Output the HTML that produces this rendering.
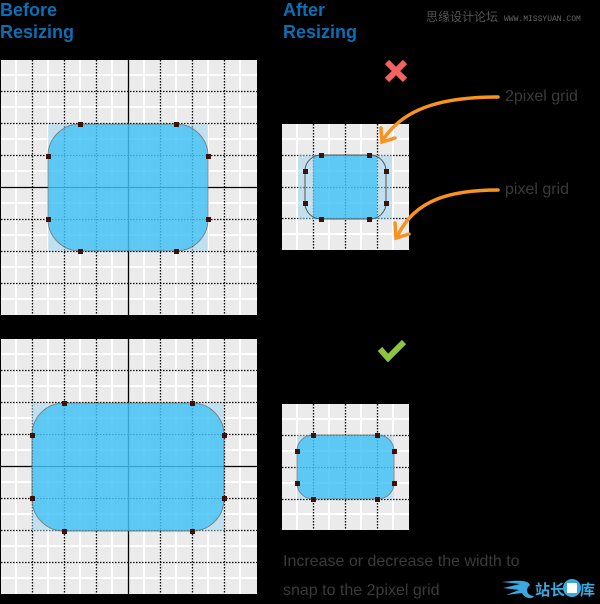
<!DOCTYPE html>
<html><head><meta charset="utf-8"><style>
html,body{margin:0;padding:0;background:#000;width:600px;height:604px;overflow:hidden}
svg{display:block}
</style></head><body>
<svg width="600" height="604" viewBox="0 0 600 604" xmlns="http://www.w3.org/2000/svg">
<rect width="600" height="604" fill="#000"/>
<g font-family="Liberation Sans, sans-serif" font-weight="bold" font-size="18" fill="#0a6fb5">
<text x="0" y="16">Before</text><text x="0" y="38">Resizing</text>
<text x="283" y="16">After</text><text x="283" y="38">Resizing</text>
</g>
<text x="426" y="21" font-family="Liberation Sans, 'Noto Sans CJK SC', sans-serif" font-size="12" fill="#555">思缘设计论坛</text>
<text x="504" y="21" font-family="Liberation Mono, monospace" font-size="8" fill="#666">WWW.MISSYUAN.COM</text>

<!-- Top-left grid -->
<g>
<rect x="1" y="60" width="256" height="255" fill="#ebebeb"/>
<g stroke="#fff" stroke-width="2">
<path d="M16 60V315M48 60V315M80 60V315M112 60V315M144 60V315M176 60V315M208 60V315M240 60V315"/>
<path d="M1 75H257M1 107H257M1 139H257M1 171H257M1 203H257M1 235H257M1 267H257M1 299H257"/>
</g>
<g stroke="#000" stroke-width="1.3" stroke-dasharray="1.5 1.5">
<path d="M32.5 60V315M64.5 60V315M96.5 60V315M160.5 60V315M192.5 60V315M224.5 60V315"/>
<path d="M1 91.5H257M1 123.5H257M1 155.5H257M1 219.5H257M1 251.5H257M1 283.5H257"/>
</g>
<path d="M128.5 60V315M1 187.5H257" stroke="#000" stroke-width="1.3"/>
<rect x="48" y="124" width="160" height="127" fill="#9fd6ee" opacity="0.55"/>
<rect x="48" y="124" width="160" height="127" rx="32" fill="#2abdf8" opacity="0.65" stroke="#555" stroke-width="1"/>
<g fill="#3a140c"><rect x="78" y="122" width="5" height="5"/><rect x="174" y="122" width="5" height="5"/><rect x="46" y="154" width="5" height="5"/><rect x="206" y="154" width="5" height="5"/><rect x="46" y="217" width="5" height="5"/><rect x="206" y="217" width="5" height="5"/><rect x="78" y="249" width="5" height="5"/><rect x="174" y="249" width="5" height="5"/></g>
</g>

<!-- Bottom-left grid -->
<g>
<rect x="1" y="339" width="256" height="255" fill="#ebebeb"/>
<g stroke="#fff" stroke-width="2">
<path d="M16 339V594M48 339V594M80 339V594M112 339V594M144 339V594M176 339V594M208 339V594M240 339V594"/>
<path d="M1 354H257M1 386H257M1 418H257M1 450H257M1 482H257M1 514H257M1 546H257M1 578H257"/>
</g>
<g stroke="#000" stroke-width="1.3" stroke-dasharray="1.5 1.5">
<path d="M32.5 339V594M64.5 339V594M96.5 339V594M160.5 339V594M192.5 339V594M224.5 339V594"/>
<path d="M1 370.5H257M1 402.5H257M1 434.5H257M1 498.5H257M1 530.5H257M1 562.5H257"/>
</g>
<path d="M128.5 339V594M1 466.5H257" stroke="#000" stroke-width="1.3"/>
<rect x="32" y="403" width="192" height="128" fill="#9fd6ee" opacity="0.55"/>
<rect x="32" y="403" width="192" height="128" rx="32" fill="#2abdf8" opacity="0.65" stroke="#555" stroke-width="1"/>
<g fill="#3a140c"><rect x="62" y="401" width="5" height="5"/><rect x="190" y="401" width="5" height="5"/><rect x="30" y="433" width="5" height="5"/><rect x="222" y="433" width="5" height="5"/><rect x="30" y="496" width="5" height="5"/><rect x="222" y="496" width="5" height="5"/><rect x="62" y="529" width="5" height="5"/><rect x="190" y="529" width="5" height="5"/></g>
</g>

<!-- Top-right grid -->
<g>
<rect x="282" y="124" width="127" height="126" fill="#ebebeb"/>
<g stroke="#fff" stroke-width="2">
<path d="M297 124V250M329 124V250M361 124V250M393 124V250"/>
<path d="M282 139H409M282 171H409M282 203H409M282 234H409"/>
</g>
<g stroke="#000" stroke-width="1.3" stroke-dasharray="1.5 1.5">
<path d="M313.5 124V250M345.5 124V250M377.5 124V250"/>
<path d="M282 155.5H409M282 187.5H409M282 218.5H409"/>
</g>
<rect x="298" y="155" width="94" height="64" fill="#9fd6ee" opacity="0.55"/>
<rect x="313" y="155" width="64" height="64" fill="#2abdf8" opacity="0.65"/>
<rect x="305" y="155" width="81" height="64" rx="16" fill="none" stroke="#555" stroke-width="1"/>
<g fill="#3a140c"><rect x="319" y="153" width="5" height="5"/><rect x="367" y="153" width="5" height="5"/><rect x="303" y="169" width="5" height="5"/><rect x="384" y="169" width="5" height="5"/><rect x="303" y="201" width="5" height="5"/><rect x="384" y="201" width="5" height="5"/><rect x="319" y="217" width="5" height="5"/><rect x="367" y="217" width="5" height="5"/></g>
</g>

<!-- Bottom-right grid -->
<g>
<rect x="282" y="404" width="127" height="126" fill="#ebebeb"/>
<g stroke="#fff" stroke-width="2">
<path d="M297 404V530M329 404V530M361 404V530M393 404V530"/>
<path d="M282 419H409M282 451H409M282 483H409M282 514H409"/>
</g>
<g stroke="#000" stroke-width="1.3" stroke-dasharray="1.5 1.5">
<path d="M313.5 404V530M345.5 404V530M377.5 404V530"/>
<path d="M282 435.5H409M282 467.5H409M282 499.5H409"/>
</g>
<rect x="297" y="435" width="97" height="64" fill="#9fd6ee" opacity="0.55"/>
<rect x="297" y="435" width="97" height="64" rx="16" fill="#2abdf8" opacity="0.65" stroke="#555" stroke-width="1"/>
<g fill="#3a140c"><rect x="311" y="433" width="5" height="5"/><rect x="375" y="433" width="5" height="5"/><rect x="295" y="449" width="5" height="5"/><rect x="392" y="449" width="5" height="5"/><rect x="295" y="481" width="5" height="5"/><rect x="392" y="481" width="5" height="5"/><rect x="311" y="497" width="5" height="5"/><rect x="375" y="497" width="5" height="5"/></g>
</g>

<!-- X mark -->
<path d="M387 62L405 80M405 62L387 80" stroke="#f56262" stroke-width="6"/>
<!-- check -->
<path d="M380 349L388 358L404 342" stroke="#8cc63f" stroke-width="6" fill="none"/>

<!-- arrows -->
<g stroke="#f7931e" stroke-width="3.5" fill="none" stroke-linecap="round">
<path d="M498 97C450 97 405 105 383 140"/>
<path d="M381 128L382 142L395 138"/>
<path d="M498 190C450 190 415 200 398 235"/>
<path d="M395 223L396 238L409 234"/>
</g>
<g font-family="Liberation Sans, sans-serif" font-size="16" fill="#3a3a3a">
<text x="505" y="101">2pixel grid</text>
<text x="505" y="194">pixel grid</text>
<text x="283" y="566">Increase or decrease the width to</text>
<text x="283" y="595">snap to the 2pixel grid</text>
</g>
<!-- logo -->
<path d="M502 582L520 584L503 588L519 590L506 595L522 593C524 598 532 600 534 596C528 596 524 590 530 585C528 580 518 580 502 582Z" fill="#3aa9e0"/>
<text x="535" y="595" font-family="'Noto Sans CJK SC', sans-serif" font-weight="bold" font-size="15" fill="#3aa9e0">站长</text>
<circle cx="572" cy="588" r="9" fill="#3aa9e0"/><rect x="567" y="583" width="10" height="10" fill="#fff"/>
<text x="580" y="595" font-family="'Noto Sans CJK SC', sans-serif" font-weight="bold" font-size="15" fill="#3aa9e0">库</text>
</svg>
</body></html>
